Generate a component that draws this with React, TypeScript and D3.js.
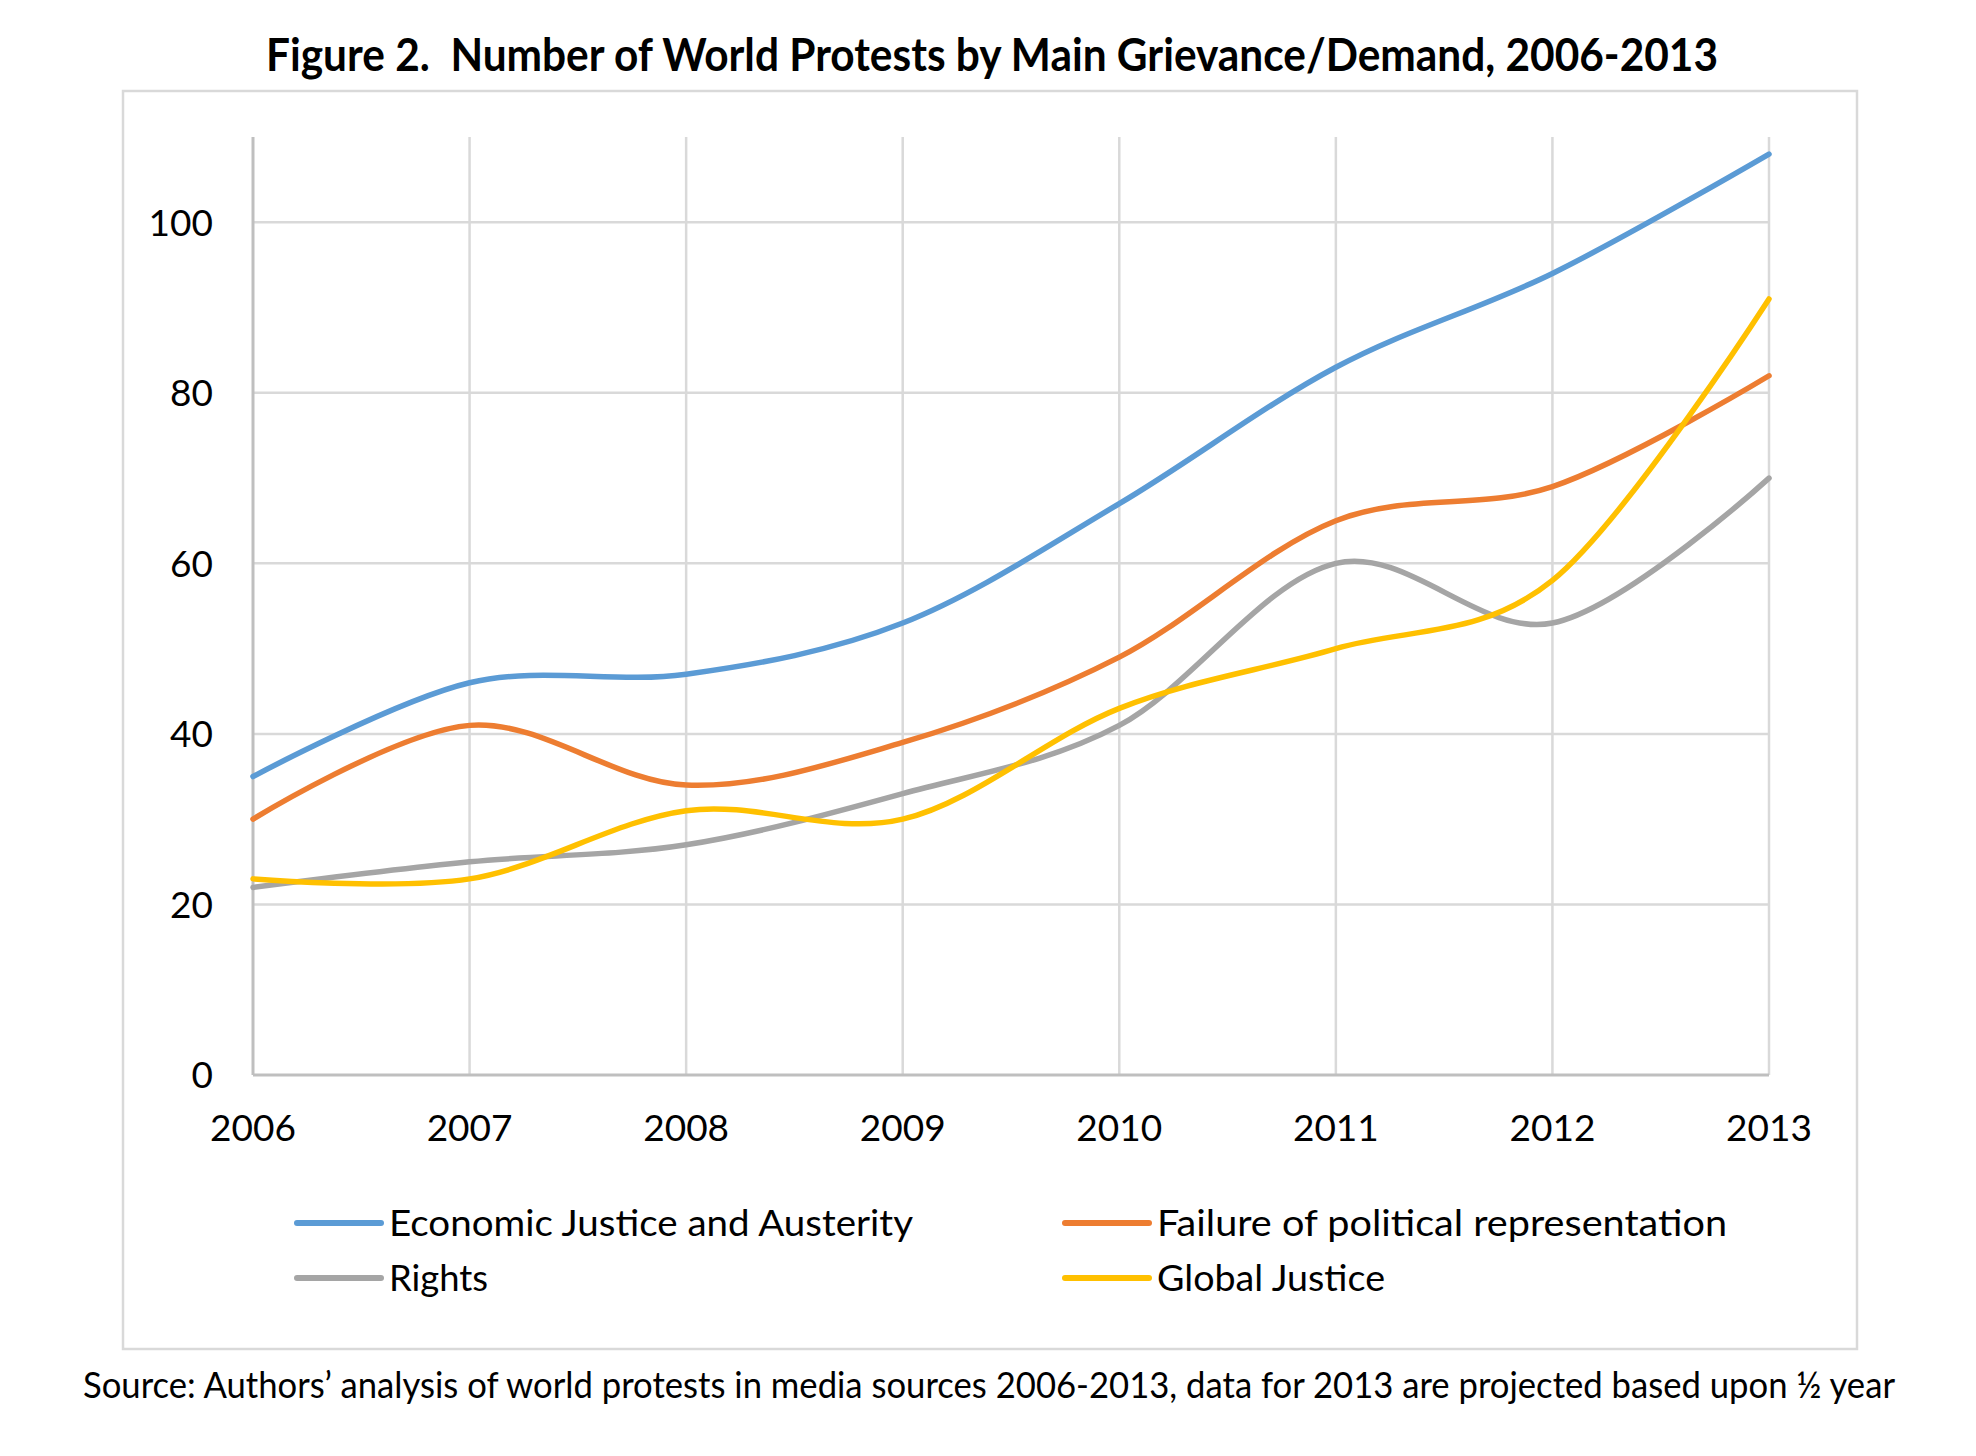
import React from 'react';
import * as d3 from 'd3';

const years = ['2006', '2007', '2008', '2009', '2010', '2011', '2012', '2013'];
const economicJustice = [35, 46, 47, 53, 67, 83, 94, 108];
const politicalFailure = [30, 41, 34, 39, 49, 65, 69, 82];
const rights = [22, 25, 27, 33, 41, 60, 53, 70];
const globalJustice = [23, 23, 31, 30, 43, 50, 58, 91];
const yTicks = [0, 20, 40, 60, 80, 100];

const TITLE = 'Figure 2.  Number of World Protests by Main Grievance/Demand, 2006-2013';
const SOURCE = 'Source: Authors\u2019 analysis of world protests in media sources 2006-2013, data for 2013 are projected based upon \u00bd year';

const series = [
  { name: 'Economic Justice and Austerity', values: economicJustice, color: '#5B9BD5' },
  { name: 'Failure of political representation', values: politicalFailure, color: '#ED7D31' },
  { name: 'Rights', values: rights, color: '#A5A5A5' },
  { name: 'Global Justice', values: globalJustice, color: '#FFC000' },
];

const W = 1976;
const H = 1456;
const FONT = 'Lato, "Open Sans", sans-serif';

export default function App() {
  const x = d3.scalePoint<string>().domain(years).range([253, 1769]);
  const y = d3.scaleLinear().domain([0, 110]).range([1075, 137]);

  const line = d3.line<number>()
    .x((_, i) => x(years[i])!)
    .y(d => y(d))
    .curve(d3.curveCardinal.tension(0));

  // legend: 2 columns x 2 rows
  const legendCols = [297, 1065];
  const legendRows = [1223, 1278];
  const legendWidths = [524, 570, 99, 228];

  return (
    <svg width={W} height={H} style={{ position: 'absolute', left: 0, top: 0, background: '#fff' }}
      fontFamily={FONT}>
      <rect x={0} y={0} width={W} height={H} fill="#fff" />

      {/* title */}
      <text x={992} y={71} textAnchor="middle" fontSize={45} fontWeight="bold" fill="#000"
        style={{ whiteSpace: 'pre' }} textLength={1452} lengthAdjust="spacingAndGlyphs">{TITLE}</text>

      {/* chart frame */}
      <rect x={123} y={91} width={1734} height={1258} fill="none" stroke="#D9D9D9" strokeWidth={2.5} />

      {/* horizontal gridlines */}
      {yTicks.filter(t => t > 0).map(t => (
        <line key={'h' + t} x1={x(years[0])} x2={x(years[years.length - 1])} y1={y(t)} y2={y(t)}
          stroke="#D9D9D9" strokeWidth={2.5} />
      ))}
      {/* vertical gridlines */}
      {years.slice(1).map(yr => (
        <line key={'v' + yr} x1={x(yr)} x2={x(yr)} y1={y(110)} y2={y(0)} stroke="#D9D9D9" strokeWidth={2.5} />
      ))}
      {/* axes */}
      <line x1={x(years[0])} x2={x(years[0])} y1={y(110)} y2={y(0)} stroke="#BFBFBF" strokeWidth={3} />
      <line x1={x(years[0])} x2={x(years[years.length - 1])} y1={y(0)} y2={y(0)} stroke="#BFBFBF" strokeWidth={3} />

      {/* y tick labels */}
      {yTicks.map(t => (
        <text key={'yl' + t} x={213} y={y(t)} dy="0.36em" textAnchor="end" fontSize={37} fill="#000">{t}</text>
      ))}
      {/* x tick labels */}
      {years.map(yr => (
        <text key={'xl' + yr} x={x(yr)} y={1141} textAnchor="middle" fontSize={37} fill="#000">{yr}</text>
      ))}

      {/* series lines */}
      {series.map(s => (
        <path key={s.name} d={line(s.values)!} fill="none" stroke={s.color} strokeWidth={5.5}
          strokeLinecap="round" strokeLinejoin="round" />
      ))}

      {/* legend */}
      {series.map((s, i) => {
        const lx = legendCols[i % 2];
        const ly = legendRows[Math.floor(i / 2)];
        return (
          <g key={'lg' + s.name}>
            <line x1={lx} x2={lx + 84} y1={ly} y2={ly} stroke={s.color} strokeWidth={6} strokeLinecap="round" />
            <text x={lx + 92} y={ly} dy="0.36em" fontSize={37} fill="#000"
              textLength={legendWidths[i]} lengthAdjust="spacingAndGlyphs">{s.name}</text>
          </g>
        );
      })}

      {/* source note */}
      <text x={989} y={1398} textAnchor="middle" fontSize={37} fill="#000"
        textLength={1812} lengthAdjust="spacingAndGlyphs">{SOURCE}</text>
    </svg>
  );
}
